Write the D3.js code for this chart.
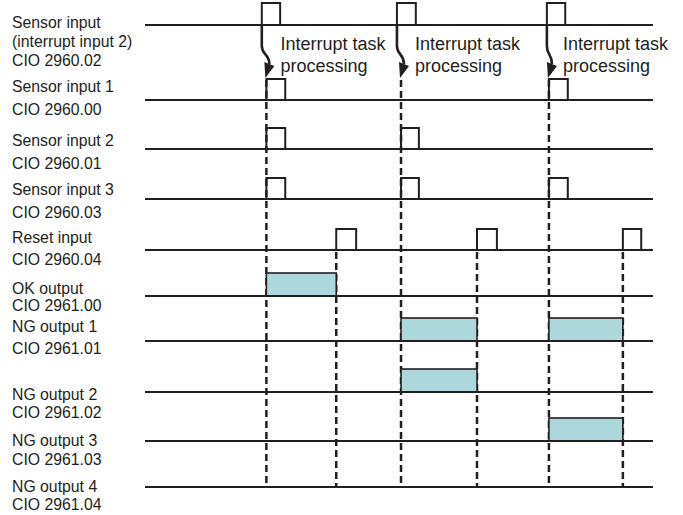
<!DOCTYPE html>
<html>
<head>
<meta charset="utf-8">
<script src="https://cdn.jsdelivr.net/npm/d3@7"></script>
<style>
  body { margin: 0; background: #fff; }
  text { font-family: "Liberation Sans", Arial, sans-serif; fill: #231f20; }
</style>
</head>
<body>
<script>
// signal names, top to bottom
const signalNames = ['intr', 's1', 's2', 's3', 'reset', 'ok', 'ng1', 'ng2', 'ng3', 'ng4'];
const signalLabels = [
  ['Sensor input', '(interrupt input 2)', 'CIO 2960.02'],
  ['Sensor input 1', 'CIO 2960.00'],
  ['Sensor input 2', 'CIO 2960.01'],
  ['Sensor input 3', 'CIO 2960.03'],
  ['Reset input', 'CIO 2960.04'],
  ['OK output', 'CIO 2961.00'],
  ['NG output 1', 'CIO 2961.01'],
  ['NG output 2', 'CIO 2961.02'],
  ['NG output 3', 'CIO 2961.03'],
  ['NG output 4', 'CIO 2961.04'],
];

// pulses as [on, off] times
const interruptPulses = [[22.9, 26.5], [49.4, 53.1], [78.8, 82.4]];
const sensor1Pulses = [[23.8, 27.5], [79.2, 82.9]];
const sensor2Pulses = [[23.8, 27.5], [50.2, 53.7]];
const sensor3Pulses = [[23.8, 27.5], [50.2, 53.7], [79.2, 82.9]];
const resetPulses = [[37.5, 41.4], [65.1, 69.0], [93.7, 97.3]];
const okOutput = [[23.8, 37.5]];
const ng1Output = [[50.2, 65.1], [79.2, 93.7]];
const ng2Output = [[50.2, 65.1]];
const ng3Output = [[79.2, 93.7]];
const ng4Output = [];

const interruptTimes = [23.8, 50.2, 79.2];
const resetTimes = [37.5, 65.1, 93.7];
const taskLabel = ['Interrupt task', 'processing'];

const pulses = [interruptPulses, sensor1Pulses, sensor2Pulses, sensor3Pulses, resetPulses,
  okOutput, ng1Output, ng2Output, ng3Output, ng4Output];
const isOutput = [false, false, false, false, false, true, true, true, true, true];

// layout
const width = 683, height = 515;
const ink = '#231f20';
const x = d3.scaleLinear().domain([0, 100]).range([145, 655]);
const y = d3.scaleOrdinal().domain(signalNames)
  .range([25, 100, 149, 199, 250, 296, 341, 392, 441, 487]);
const labelY = [28, 92, 146, 195, 243, 294, 332, 400, 446, 492];
const labelGap = [19, 23, 23, 23, 22, 17, 22, 18, 19, 18];

const svg = d3.select('body').append('svg')
  .attr('width', width)
  .attr('height', height);

// dashed guides
const dashes = svg.append('g')
  .attr('stroke', ink)
  .attr('stroke-width', 2.5)
  .attr('stroke-dasharray', '7,4');

dashes.selectAll('.intr')
  .data(interruptTimes)
  .enter()
  .append('line')
  .attr('x1', d => x(d)).attr('x2', d => x(d))
  .attr('y1', 80).attr('y2', 484);

dashes.selectAll('.rst')
  .data(resetTimes)
  .enter()
  .append('line')
  .attr('x1', d => x(d)).attr('x2', d => x(d))
  .attr('y1', 252).attr('y2', 486);

// rows
const rows = svg.selectAll('g.row')
  .data(signalNames)
  .enter()
  .append('g')
  .attr('class', 'row');

rows.each(function (name, i) {
  const g = d3.select(this);
  const base = y(name);
  const h = isOutput[i] ? 23 : (i === 0 ? 22 : 21);

  g.selectAll('rect')
    .data(pulses[i])
    .enter()
    .append('rect')
    .attr('x', d => x(d[0]))
    .attr('y', base - h)
    .attr('width', d => x(d[1]) - x(d[0]))
    .attr('height', h)
    .attr('fill', isOutput[i] ? '#acd7db' : 'none')
    .attr('stroke', ink)
    .attr('stroke-width', isOutput[i] ? 1.6 : 2);

  g.append('line')
    .attr('x1', x(0)).attr('x2', x(99.6))
    .attr('y1', base).attr('y2', base)
    .attr('stroke', ink)
    .attr('stroke-width', 2.2);

  g.append('text')
    .attr('x', 12)
    .attr('y', labelY[i])
    .attr('font-size', 15.8)
    .selectAll('tspan')
    .data(signalLabels[i])
    .enter()
    .append('tspan')
    .attr('x', 12)
    .attr('dy', (d, j) => j === 0 ? 0 : labelGap[i])
    .text(d => d);
});

// interrupt arrows
const arrows = svg.selectAll('g.arrow')
  .data(interruptTimes)
  .enter()
  .append('g')
  .attr('class', 'arrow');

arrows.append('path')
  .attr('d', (d, i) => {
    const x0 = x(interruptPulses[i][0]);
    const x1 = x(d);
    return `M${x0},${y('intr')} L${x0},46 C${x0},55 ${x1 + 3},54 ${x1 + 3},64`;
  })
  .attr('fill', 'none')
  .attr('stroke', ink)
  .attr('stroke-width', 2.6);

arrows.append('path')
  .attr('d', d => {
    const x1 = x(d);
    return `M${x1 - 2},62 L${x1 + 8},66 L${x1 - 1},78 Z`;
  })
  .attr('fill', ink);

arrows.append('text')
  .attr('x', d => x(d) + 14)
  .attr('y', 50)
  .attr('font-size', 18)
  .selectAll('tspan')
  .data(taskLabel)
  .enter()
  .append('tspan')
  .attr('x', function () { return d3.select(this.parentNode).attr('x'); })
  .attr('dy', (d, j) => j === 0 ? 0 : 22)
  .text(d => d);
</script>
</body>
</html>
